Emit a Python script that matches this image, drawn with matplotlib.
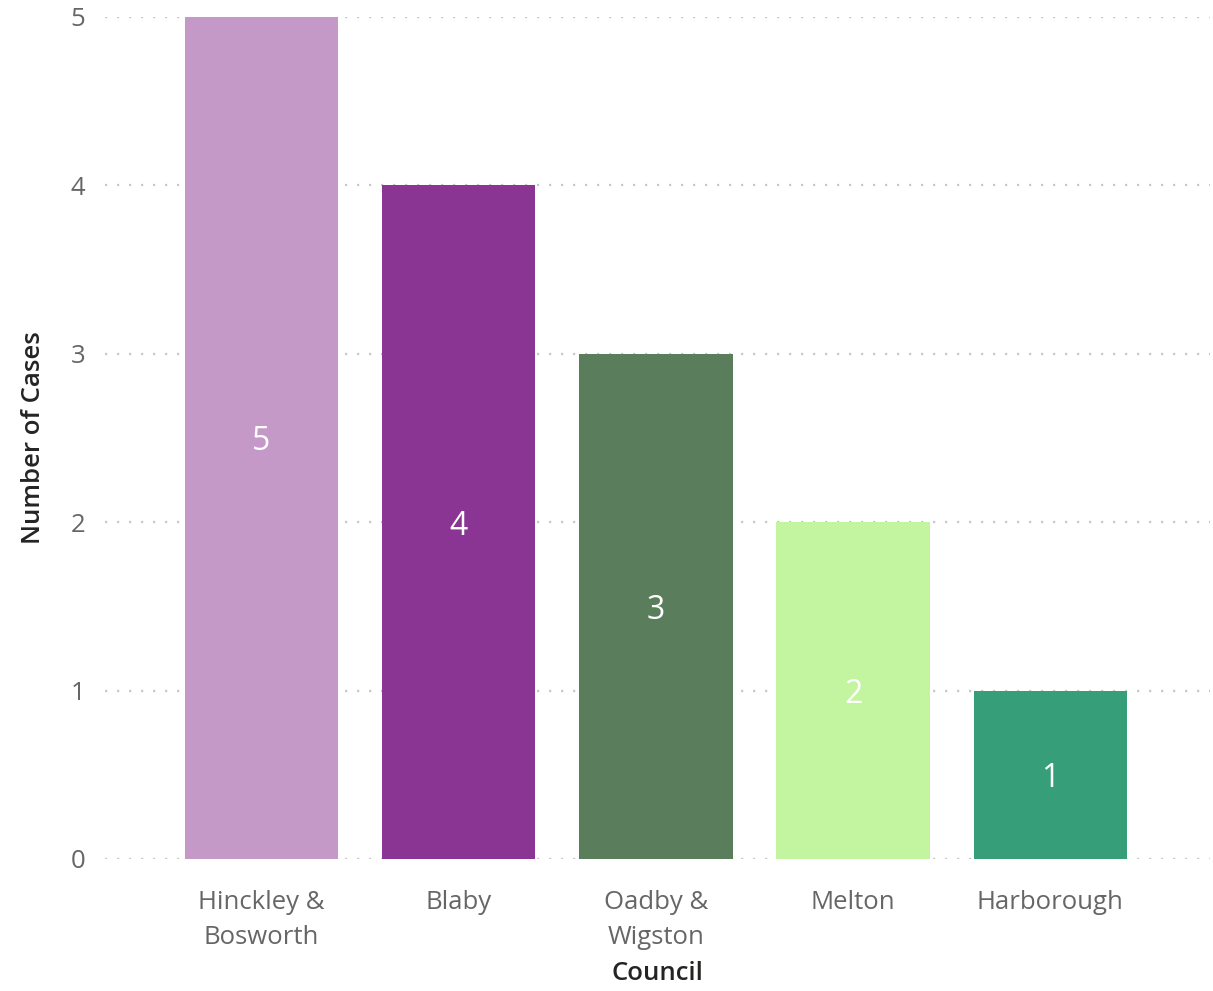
import matplotlib.pyplot as plt
import numpy as np

plt.rcParams['font.family'] = ['Open Sans', 'DejaVu Sans']

# data
councils = ["Hinckley &\nBosworth", "Blaby", "Oadby &\nWigston", "Melton", "Harborough"]
cases = [5, 4, 3, 2, 1]
colors = ["#C499C8", "#8A3593", "#5A7D5B", "#C3F5A1", "#369E78"]

fig = plt.figure(figsize=(12.13, 9.91), dpi=100)
ax = fig.add_axes([105 / 1213, 1 - 859 / 991, (1210 - 105) / 1213, (859 - 17) / 991])

x = np.arange(len(councils))
bars = ax.bar(x, cases, width=0.777, color=colors, zorder=2)

for xi, v in zip(x, cases):
    ax.text(xi, v / 2, str(v), ha="center", va="center_baseline", color="white", fontsize=23, zorder=3)

ax.set_xlim(-0.794, 4.81)
ax.set_ylim(0, 5)
ax.set_yticks(range(6))
ax.yaxis.grid(True, color="#c8c8c8", linestyle=(0, (1, 4.4)), linewidth=1.6, zorder=0)
ax.set_axisbelow(True)

for s in ax.spines.values():
    s.set_visible(False)
ax.tick_params(axis="both", length=0, colors="#666666", labelsize=18.5)
ax.tick_params(axis="y", pad=14)
ax.tick_params(axis="x", pad=22)
ax.set_xticks(x)
ax.set_xticklabels(councils, linespacing=1.55)

ax.set_xlabel("Council", fontsize=18.5, fontweight="semibold", color="#252423", labelpad=8)
ax.set_ylabel("Number of Cases", fontsize=18.5, fontweight="semibold", color="#252423", labelpad=18)

fig.savefig("out.png", dpi=100)
